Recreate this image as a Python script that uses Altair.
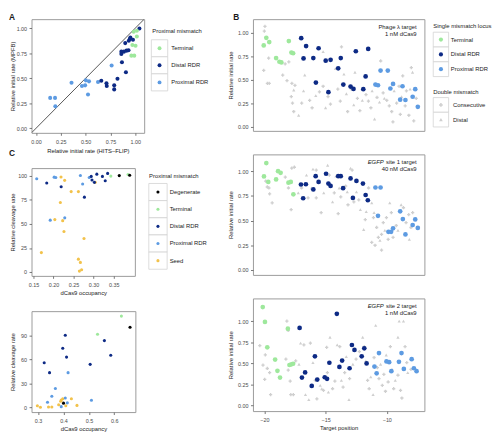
import altair as alt
import pandas as pd

FONT = "Liberation Sans"
TERM = "#9ee89c"
DIST = "#0d2a85"
PROX = "#5d9be2"
SEED = "#f2c24b"
DEG = "#000000"
GRAY = "#cfcfcf"
BOXC = "#d2d2d2"
INK = "#1a1a1a"

# ---------------- Panel A data (HITS-FLIP vs MPFB) ----------------
a_terminal = [(0.984, 0.964), (1.016, 0.974), (0.971, 0.832), (1.003, 0.825),
              (0.961, 0.726), (0.990, 0.726), (1.016, 0.917)]
a_distal = [(0.658, 0.475), (0.710, 0.449), (0.713, 0.422), (0.788, 0.429), (0.788, 0.389),
            (0.821, 0.495), (0.866, 0.660), (0.860, 0.766), (0.860, 0.743), (0.886, 0.766),
            (0.912, 0.776), (0.932, 0.779), (0.906, 0.561), (0.899, 0.851), (0.945, 0.891),
            (0.951, 0.908), (0.977, 0.884), (0.935, 0.875), (1.042, 0.997)]
a_proximal = [(0.143, 0.304), (0.192, 0.304), (0.195, 0.221), (0.358, 0.455), (0.463, 0.422),
              (0.502, 0.479), (0.495, 0.429), (0.534, 0.469), (0.524, 0.337), (0.625, 0.462),
              (0.762, 0.627)]
a_ticks = [0, 0.25, 0.5, 0.75, 1.0]

# ---------------- Panel B data (target position) ----------------
b1_terminal = [(-19.84, 0.948), (-20.05, 0.867), (-19.60, 0.902), (-18.00, 0.913), (-19.04, 0.731),
               (-18.77, 0.692), (-18.61, 0.685), (-17.79, 0.790), (-17.65, 0.783)]
b1_distal = [(-16.99, 0.944), (-16.59, 0.860), (-15.57, 0.836), (-16.80, 0.727), (-16.00, 0.731),
             (-14.99, 0.703), (-14.59, 0.713), (-13.76, 0.731), (-13.97, 0.622), (-12.53, 0.804),
             (-11.52, 0.829), (-11.73, 0.535), (-15.79, 0.469), (-14.77, 0.367), (-13.55, 0.448),
             (-12.96, 0.427), (-12.72, 0.402), (-11.92, 0.399)]
b1_proximal = [(-10.51, 0.598), (-9.92, 0.598), (-10.93, 0.448), (-10.72, 0.441), (-9.49, 0.455),
               (-9.71, 0.406), (-8.72, 0.430), (-7.68, 0.399), (-8.91, 0.287), (-8.48, 0.283),
               (-7.89, 0.318), (-7.47, 0.210)]
b1_double = [(-19.95, 1.07, "C"), (-20.0, 1.02, "C"), (-19.65, 0.73, "C"), (-20.05, 0.60, "C"),
             (-19.75, 0.46, "C"), (-19.6, 0.46, "C"), (-18.5, 0.55, "C"), (-18.3, 0.67, "C"),
             (-18.0, 0.69, "C"), (-18.15, 0.49, "C"), (-17.75, 0.46, "C"), (-17.5, 0.44, "C"),
             (-17.6, 0.39, "T"), (-17.8, 0.32, "C"), (-17.7, 0.25, "C"), (-17.6, 0.16, "C"),
             (-17.2, 0.12, "T"), (-16.95, 0.25, "C"), (-16.8, 0.38, "T"), (-16.7, 0.55, "T"),
             (-16.3, 0.28, "C"), (-16.1, 0.20, "C"), (-15.8, 0.33, "T"), (-15.5, 0.37, "C"),
             (-15.2, 0.43, "C"), (-15.0, 0.20, "T"), (-15.2, 0.80, "T"), (-14.8, 0.32, "C"),
             (-14.6, 0.24, "C"), (-14.2, 0.62, "T"), (-14.0, 0.40, "C"), (-13.8, 0.27, "C"),
             (-13.7, 0.85, "C"), (-13.5, 0.56, "T"), (-13.3, 0.35, "T"), (-13.2, 0.16, "C"),
             (-12.9, 0.40, "C"), (-12.7, 0.23, "T"), (-12.6, 0.58, "T"), (-12.4, 0.30, "C"),
             (-12.2, 0.17, "C"), (-12.0, 0.28, "T"), (-11.7, 0.34, "C"), (-11.5, 0.27, "C"),
             (-11.3, 0.20, "C"), (-11.2, 0.38, "T"), (-11.0, 0.08, "T"), (-10.8, 0.31, "C"),
             (-10.6, 0.26, "T"), (-10.5, 0.70, "C"), (-10.3, 0.36, "C"), (-10.2, 0.30, "T"),
             (-10.0, 0.28, "C"), (-9.8, 0.22, "C"), (-9.6, 0.16, "C"), (-9.4, 0.38, "T"),
             (-9.2, 0.25, "C"), (-9.0, 0.43, "C"), (-8.9, 0.13, "C"), (-8.8, 0.32, "T"),
             (-8.7, 0.54, "C"), (-8.5, 0.22, "C"), (-8.4, 0.38, "C"), (-8.2, 0.12, "C"),
             (-8.1, 0.40, "T"), (-8.0, 0.63, "C"), (-7.9, 0.58, "T"), (-7.6, 0.30, "C"),
             (-7.8, 0.06, "C"), (-9.5, 0.05, "C")]

b2_terminal = [(-19.84, 1.082), (-20.03, 0.947), (-19.68, 0.891), (-19.04, 0.917), (-18.88, 1.000),
               (-18.67, 0.983), (-18.03, 0.884), (-17.84, 0.891), (-17.63, 0.766)]
b2_distal = [(-17.01, 0.865), (-16.61, 0.868), (-16.83, 0.726), (-15.81, 0.950), (-15.57, 0.891),
             (-16.00, 0.815), (-14.96, 0.974), (-14.77, 0.875), (-14.59, 0.851), (-13.97, 0.950),
             (-13.76, 0.950), (-13.57, 0.828), (-12.96, 0.927), (-12.48, 0.901), (-12.77, 0.729),
             (-11.95, 0.875), (-11.73, 0.759), (-11.55, 0.706)]
b2_proximal = [(-10.93, 0.835), (-10.51, 0.835), (-10.72, 0.548), (-8.91, 0.594), (-8.69, 0.515),
               (-7.68, 0.512), (-7.89, 0.455), (-7.47, 0.426), (-9.87, 0.386), (-9.65, 0.386),
               (-9.49, 0.422), (-8.48, 0.360)]
b2_double = [(-19.89, 0.90, "C"), (-19.76, 0.84, "C"), (-19.63, 0.83, "C"), (-19.36, 0.68, "C"),
             (-19.57, 0.77, "C"), (-18.29, 0.94, "C"), (-17.76, 1.03, "C"), (-17.55, 1.04, "C"),
             (-18.03, 0.83, "C"), (-17.81, 0.61, "C"), (-17.23, 0.78, "T"), (-16.96, 0.83, "C"),
             (-16.56, 0.96, "T"), (-16.43, 0.73, "C"), (-16.16, 0.83, "T"), (-16.03, 1.02, "T"),
             (-15.76, 1.01, "C"), (-15.76, 0.73, "C"), (-15.36, 0.58, "C"), (-15.15, 0.78, "T"),
             (-14.83, 1.06, "T"), (-14.69, 0.96, "C"), (-14.43, 0.69, "T"), (-14.29, 0.78, "C"),
             (-14.16, 0.95, "T"), (-13.97, 0.57, "C"), (-13.89, 0.83, "T"), (-13.76, 0.74, "C"),
             (-13.36, 0.85, "C"), (-13.23, 0.79, "T"), (-13.17, 0.66, "C"), (-12.96, 1.03, "T"),
             (-12.83, 1.01, "C"), (-12.69, 0.69, "C"), (-12.48, 0.79, "T"), (-12.29, 0.71, "C"),
             (-12.16, 0.61, "T"), (-11.76, 0.51, "C"), (-11.68, 0.59, "T"), (-11.49, 0.83, "C"),
             (-11.23, 0.68, "T"), (-11.09, 0.53, "C"), (-11.04, 0.58, "T"), (-10.83, 0.43, "C"),
             (-10.69, 0.33, "C"), (-10.56, 0.30, "T"), (-10.43, 0.36, "C"), (-10.29, 0.48, "C"),
             (-10.16, 0.40, "T"), (-10.03, 0.53, "C"), (-9.89, 0.31, "C"), (-9.63, 0.58, "C"),
             (-9.76, 0.68, "T"), (-9.49, 0.33, "C"), (-9.23, 0.45, "C"), (-9.09, 0.40, "T"),
             (-8.83, 0.66, "T"), (-8.64, 0.63, "C"), (-8.43, 0.48, "C"), (-8.21, 0.56, "C"),
             (-8.16, 0.31, "T"), (-8.03, 0.43, "C"), (-7.89, 0.58, "C"), (-11.23, 0.28, "C"),
             (-10.43, 0.20, "C"), (-10.96, 0.25, "C"), (-11.89, 0.41, "T")]

b3_terminal = [(-20.13, 1.168), (-19.95, 0.992), (-19.76, 0.691), (-19.12, 0.546), (-18.93, 0.412),
               (-18.72, 0.332), (-18.08, 0.912), (-17.95, 0.481), (-17.79, 0.489), (-17.65, 0.496)]
b3_distal = [(-17.12, 0.920), (-14.08, 1.088), (-15.87, 0.584), (-16.67, 0.393), (-16.93, 0.332),
             (-16.13, 0.233), (-15.68, 0.309), (-15.07, 0.336), (-14.88, 0.317), (-14.69, 0.508),
             (-13.65, 0.534), (-13.87, 0.458), (-13.04, 0.443), (-12.85, 0.718), (-12.64, 0.660),
             (-11.84, 0.679), (-12.05, 0.584), (-11.65, 0.500)]
b3_proximal = [(-10.64, 0.622), (-11.01, 0.462), (-10.83, 0.382), (-10.03, 0.523), (-9.81, 0.515),
               (-9.63, 0.408), (-9.01, 0.519), (-8.80, 0.622), (-8.61, 0.435), (-7.97, 0.550),
               (-7.79, 0.443), (-7.57, 0.408)]
b3_double = [(-20.37, 0.71, "C"), (-19.92, 0.60, "C"), (-20.11, 0.48, "C"), (-19.76, 0.44, "C"),
             (-19.97, 0.31, "C"), (-19.57, 0.39, "C"), (-19.49, 0.13, "C"), (-18.16, 1.00, "C"),
             (-18.05, 0.89, "C"), (-18.24, 0.55, "C"), (-18.05, 0.42, "C"), (-17.89, 0.29, "C"),
             (-17.84, 0.13, "C"), (-17.63, 0.13, "C"), (-17.44, 0.53, "C"), (-17.17, 0.49, "T"),
             (-17.04, 0.74, "T"), (-16.77, 0.72, "C"), (-16.64, 0.13, "T"), (-16.37, 0.07, "T"),
             (-16.24, 0.74, "C"), (-16.03, 0.51, "T"), (-15.84, 0.30, "C"), (-15.71, 0.08, "C"),
             (-15.44, 0.24, "T"), (-15.31, 0.20, "T"), (-15.17, 0.18, "C"), (-14.91, 0.69, "C"),
             (-14.85, 0.39, "C"), (-14.77, 0.16, "T"), (-14.64, 0.81, "T"), (-14.43, 0.20, "C"),
             (-14.24, 0.29, "C"), (-14.05, 0.72, "T"), (-13.84, 0.70, "C"), (-13.71, 0.30, "T"),
             (-13.57, 0.22, "C"), (-13.44, 0.39, "C"), (-13.31, 0.58, "T"), (-13.09, 0.07, "T"),
             (-13.04, 0.32, "C"), (-12.77, 0.49, "T"), (-12.51, 0.55, "C"), (-12.24, 0.64, "C"),
             (-11.97, 0.81, "T"), (-11.84, 0.70, "C"), (-11.71, 0.53, "T"), (-11.57, 0.30, "C"),
             (-11.44, 0.20, "C"), (-11.31, 0.34, "T"), (-11.12, 0.13, "T"), (-10.91, 0.95, "T"),
             (-10.77, 0.45, "C"), (-10.64, 0.32, "C"), (-10.51, 0.49, "T"), (-10.37, 0.24, "C"),
             (-10.24, 0.37, "C"), (-10.05, 0.60, "T"), (-9.89, 0.28, "C"), (-9.71, 0.70, "C"),
             (-9.57, 0.43, "T"), (-9.44, 0.20, "C"), (-9.31, 0.30, "T"), (-9.09, 0.81, "T"),
             (-8.99, 1.00, "T"), (-8.88, 0.18, "C"), (-8.77, 0.09, "C"), (-8.64, 1.00, "T"),
             (-8.51, 0.70, "C"), (-8.37, 0.51, "C"), (-8.29, 0.39, "T"), (-8.03, 0.43, "C"),
             (-9.09, 0.36, "C"), (-10.11, 0.17, "C"), (-11.04, 0.57, "C")]
b_ticks_y = [0, 0.25, 0.5, 0.75, 1.0]
b_ticks_x = [-20, -15, -10]

# ---------------- Panel C data (dCas9 occupancy vs cleavage) ----------------
c1_degenerate = [(0.364, 100.2), (0.390, 100.6)]
c1_terminal = [(0.343, 99.7), (0.386, 101.4)]
c1_distal = [(0.183, 92.5), (0.219, 88.7), (0.277, 77.8), (0.294, 99.4), (0.296, 95.6),
             (0.302, 93.2), (0.308, 101.7), (0.322, 99.4), (0.329, 94.9), (0.335, 102.5)]
c1_proximal = [(0.158, 96.9), (0.2015, 98.6), (0.2056, 98.3), (0.267, 100.3), (0.289, 98.3),
               (0.2726, 91.5), (0.1917, 53.9), (0.228, 56.3)]
c1_seed = [(0.2186, 98.7), (0.2277, 95.3), (0.244, 83.6), (0.262, 83.6), (0.217, 72.3),
           (0.2032, 54.5), (0.2228, 53.4), (0.226, 42.1), (0.276, 34.9), (0.1696, 20.2),
           (0.262, 13.4), (0.267, 10.0), (0.2645, 1.0), (0.270, 2.4), (0.304, 93.2)]

c2_degenerate = [(0.662, 100.4), (0.400, 5.2)]
c2_terminal = [(0.628, 114.3), (0.534, 91.6)]
c2_distal = [(0.407, 90.4), (0.397, 74.1), (0.412, 62.9), (0.324, 55.8), (0.345, 43.4),
             (0.505, 53.8), (0.561, 83.6), (0.586, 65.3)]
c2_proximal = [(0.418, 43.4), (0.368, 23.5), (0.354, 13.9), (0.337, 6.4), (0.391, 0.8),
               (0.407, 11.6), (0.415, 5.6), (0.510, 8.8)]
c2_seed = [(0.297, 2.0), (0.309, 0.0), (0.341, 0.4), (0.354, 0.4), (0.381, 3.2), (0.391, 9.2),
           (0.397, 10.8), (0.409, 2.0), (0.431, 10.8), (0.453, 2.4), (0.389, 7.6)]
c1_ticks_x = [0.15, 0.20, 0.25, 0.30, 0.35]
c1_ticks_y = [0, 25, 50, 75, 100]
c2_ticks_x = [0.3, 0.4, 0.5, 0.6]
c2_ticks_y = [0, 30, 60, 90]


# ---------------- helpers ----------------
def pts(groups):
    rows = []
    for color, lst in groups:
        for x, y in lst:
            rows.append({"x": x, "y": y, "c": color})
    return pd.DataFrame(rows)


def one():
    return alt.Chart(alt.Data(values=[{"k": 0}]))


def label(s, x, y, size=6, weight="normal", style="normal", align="left", baseline="middle"):
    return one().mark_text(text=s, font=FONT, fontSize=size, fontWeight=weight, fontStyle=style,
                           align=align, baseline=baseline, color=INK).encode(
        x=alt.value(x), y=alt.value(y))


def keybox(x1, x2, y1, y2):
    return one().mark_rect(fill="white", stroke=BOXC, strokeWidth=0.8).encode(
        x=alt.value(x1), x2=alt.value(x2), y=alt.value(y1), y2=alt.value(y2))


def keysym(x, y, color, shape="circle", size=14):
    return one().mark_point(shape=shape, filled=True, color=color, size=size, opacity=1,
                            strokeWidth=0).encode(x=alt.value(x), y=alt.value(y))


def anchor(x):
    return one().mark_rule(opacity=0, strokeWidth=0.1).encode(
        x=alt.value(x), y=alt.value(30), y2=alt.value(31))


def legend(title, tx, ty, bx1, bx2, top, rh, lab_x, entries, size):
    layers = [label(title, tx, ty)]
    cx = (bx1 + bx2) / 2
    for i, (name, color, shape) in enumerate(entries):
        y1 = top + i * rh
        layers.append(keybox(bx1, bx2, y1, y1 + rh))
        layers.append(keysym(cx, y1 + rh / 2, color, shape, size))
        layers.append(label(name, lab_x, y1 + rh / 2))
    return layers


def xq(dom, axis):
    return alt.X("x:Q", scale=alt.Scale(domain=dom, nice=False, zero=False), axis=axis)


def yq(dom, axis):
    return alt.Y("y:Q", scale=alt.Scale(domain=dom, nice=False, zero=False), axis=axis)


def xax(values, fmt, title, tp=3):
    return alt.Axis(values=values, format=fmt, title=title, labelPadding=4, titlePadding=tp)


def yax(values, fmt, title, tp):
    return alt.Axis(values=values, format=fmt, title=title, labelPadding=2.5, titlePadding=tp)


# ---------------- Panel A ----------------
A_DOM = [-0.045, 1.09]
xA = xq(A_DOM, xax(a_ticks, ".2f", "Relative initial rate (HITS\u2013FLIP)", 3))
yA = yq(A_DOM, yax(a_ticks, ".2f", "Relative initial rate (MPFB)", 0.8))
diag = alt.Chart(pd.DataFrame({"x": A_DOM, "y": A_DOM})).mark_line(
    color="#555555", strokeWidth=1, clip=True).encode(x=xA, y=yA)
dotsA = alt.Chart(pts([(PROX, a_proximal), (DIST, a_distal), (TERM, a_terminal)])).mark_circle(
    size=17, opacity=1).encode(x=xA, y=yA, color=alt.Color("c:N", scale=None))
legA = legend("Proximal mismatch", 123.3, 12.3, 122.3, 139, 21, 17.4, 142.6,
              [("Terminal", TERM, "circle"), ("Distal RDR", DIST, "circle"),
               ("Proximal RDR", PROX, "circle")], 16)
panelA = alt.layer(diag, dotsA, *legA, label("A", -23, -6, 8.5, "bold", baseline="top"),
                   anchor(190)).properties(width=115, height=116)


# ---------------- Panel C ----------------
def panel_c(groups, xdom, ydom, xt, xf, yt, ytp, xtp, w, h, extra):
    xe = xq(xdom, xax(xt, xf, "dCas9 occupancy", xtp))
    ye = yq(ydom, yax(yt, "d", "Relative cleavage rate", ytp))
    dots = alt.Chart(pts(groups)).mark_circle(size=10, opacity=1).encode(
        x=xe, y=ye, color=alt.Color("c:N", scale=None))
    return alt.layer(dots, *extra).properties(width=w, height=h)


legC = legend("Proximal mismatch", 120, 8.3, 119.7, 138.4, 15.7, 17.5, 141,
              [("Degenerate", DEG, "circle"), ("Terminal", TERM, "circle"),
               ("Distal RDR", DIST, "circle"), ("Proximal RDR", PROX, "circle"),
               ("Seed", SEED, "circle")], 10)
panelC1 = panel_c([(SEED, c1_seed), (PROX, c1_proximal), (DIST, c1_distal), (TERM, c1_terminal),
                   (DEG, c1_degenerate)], [0.145, 0.403], [-4, 108], c1_ticks_x, ".2f",
                  c1_ticks_y, 2.3, 2, 105.5, 110,
                  legC + [label("C", -23, -19, 8.5, "bold", baseline="top")])
panelC2 = panel_c([(SEED, c2_seed), (PROX, c2_proximal), (DIST, c2_distal), (TERM, c2_terminal),
                   (DEG, c2_degenerate)], [0.274, 0.683], [-6, 120.5], c2_ticks_x, ".1f",
                  c2_ticks_y, 5.4, 1.5, 106, 103, [])


# ---------------- Panel B ----------------
B_XDOM = [-20.93, -6.93]
BW = 175


def panel_b(single, double, ydom, h, lines, show_x, extra):
    if show_x:
        xe = xq(B_XDOM, alt.Axis(values=b_ticks_x, format="d", title="Target position",
                                 labelPadding=4, titlePadding=1.5))
    else:
        xe = xq(B_XDOM, None)
    ye = yq(ydom, yax(b_ticks_y, ".2f", "Relative initial rate", 3.8))
    dd = pd.DataFrame(double, columns=["x", "y", "s"])
    dd["shape"] = dd["s"].map({"C": "cross", "T": "triangle-up"})
    gray = alt.Chart(dd).mark_point(filled=True, color=GRAY, size=11, opacity=1,
                                    strokeWidth=0).encode(
        x=xe, y=ye, shape=alt.Shape("shape:N", scale=None))
    dots = alt.Chart(pts(single)).mark_circle(size=23, opacity=1).encode(
        x=xe, y=ye, color=alt.Color("c:N", scale=None))
    txt = []
    for i, (main, ital) in enumerate(lines):
        yy = 8 + i * 7
        txt.append(label(main, BW - 8, yy, align="right"))
        if ital:
            txt.append(label(ital, BW - 41.6, yy, style="italic", align="right"))
    return alt.layer(gray, dots, *txt, *extra).properties(width=BW, height=h)


legB = legend("Single mismatch locus", 184, 7.3, 184, 199.7, 13.3, 15.1, 202,
              [("Terminal", TERM, "circle"), ("Distal RDR", DIST, "circle"),
               ("Proximal RDR", PROX, "circle")], 18)
legB2 = legend("Double mismatch", 184, 74, 184, 199.7, 80, 15, 204.3,
               [("Consecutive", GRAY, "cross"), ("Distal", GRAY, "triangle-up")], 14)

panelB1 = panel_b([(TERM, b1_terminal), (DIST, b1_distal), (PROX, b1_proximal)], b1_double,
                  [-0.047, 1.147], 114, [("Phage \u03bb target", None), ("1 nM dCas9", None)],
                  False, legB + legB2 + [label("B", -20, -6, 8.5, "bold", baseline="top"),
                                         anchor(-34)])
panelB2 = panel_b([(TERM, b2_terminal), (DIST, b2_distal), (PROX, b2_proximal)], b2_double,
                  [-0.05, 1.17], 123, [("site 1 target", "EGFP"), ("40 nM dCas9", None)],
                  False, [])
panelB3 = panel_b([(TERM, b3_terminal), (DIST, b3_distal), (PROX, b3_proximal)], b3_double,
                  [-0.065, 1.27], 115, [("site 2 target", "EGFP"), ("1 nM dCas9", None)],
                  True, [])

left = alt.vconcat(panelA, panelC1, panelC2, spacing=36, bounds="flush")
right = alt.vconcat(panelB1, panelB2, panelB3, spacing=24, bounds="flush")

chart = alt.hconcat(left, right, spacing=0, padding=0).configure_view(
    stroke="#9a9a9a", strokeWidth=1
).configure_axis(
    domain=False, grid=False, tickColor="#555555", tickSize=2.5, tickWidth=0.8,
    labelFont=FONT, labelFontSize=5.5, labelColor="#4d4d4d",
    titleFont=FONT, titleFontSize=6, titleFontWeight="normal", titleColor=INK
)

chart.save("out.html", embed_options={"renderer": "svg", "actions": False})
